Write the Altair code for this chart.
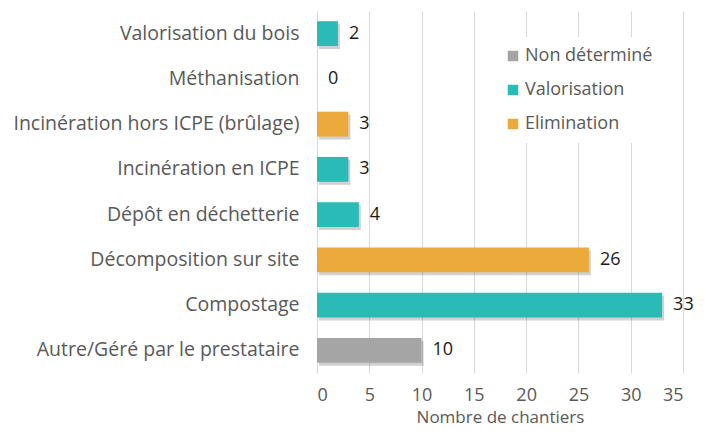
import altair as alt
import pandas as pd

categories = [
    "Valorisation du bois",
    "Méthanisation",
    "Incinération hors ICPE (brûlage)",
    "Incinération en ICPE",
    "Dépôt en déchetterie",
    "Décomposition sur site",
    "Compostage",
    "Autre/Géré par le prestataire",
]
values = [2, 0, 3, 3, 4, 26, 33, 10]
types = ["Valorisation", "Valorisation", "Elimination", "Valorisation",
         "Valorisation", "Elimination", "Valorisation", "Non déterminé"]

legend_order = ["Non déterminé", "Valorisation", "Elimination"]
legend_colors = ["#A5A5A5", "#2BBBB7", "#EDAA3C"]
x_ticks = [0, 5, 10, 15, 20, 25, 30, 35]

df = pd.DataFrame({"cat": categories, "val": values, "type": types})

FONT = "Open Sans"

y_enc = alt.Y("cat:N", sort=categories, title=None,
              scale=alt.Scale(paddingInner=0.45, paddingOuter=0.225))
x_scale = alt.Scale(domain=[0, 35], nice=False)

shadow = alt.Chart(df).mark_bar(color="#000000", opacity=0.18, xOffset=2, yOffset=3).encode(
    x=alt.X("val:Q", scale=x_scale),
    y=y_enc,
)

bars = alt.Chart(df).mark_bar().encode(
    x=alt.X("val:Q", scale=x_scale, title="Nombre de chantiers",
            axis=alt.Axis(values=x_ticks, grid=True, gridColor="#D9D9D9", domain=False,
                          ticks=False, labelPadding=13, labelFontSize=18,
                          labelColor="#595959", labelFont=FONT,
                          titleFont=FONT, titleFontSize=17, titleFontWeight="normal",
                          titleColor="#595959", titlePadding=5)),
    y=alt.Y("cat:N", sort=categories, title=None,
            scale=alt.Scale(paddingInner=0.45, paddingOuter=0.225),
            axis=alt.Axis(domain=True, domainColor="#D9D9D9", ticks=False, labelPadding=18,
                          labelFontSize=19.5, labelColor="#595959", labelFont=FONT,
                          labelLimit=400)),
    color=alt.Color("type:N",
                    scale=alt.Scale(domain=legend_order, range=legend_colors),
                    legend=alt.Legend(title=None, orient="none", legendX=177, legendY=26,
                                      fillColor="white", padding=10,
                                      symbolType="square", symbolSize=110,
                                      symbolStrokeWidth=0,
                                      labelFontSize=18, labelColor="#595959",
                                      labelFont=FONT, rowPadding=16, labelOffset=3)),
)

labels = alt.Chart(df).mark_text(align="left", baseline="middle", dx=11,
                                 fontSize=18, font=FONT, color="#1a1a1a").encode(
    x=alt.X("val:Q", scale=x_scale),
    y=y_enc,
    text=alt.Text("val:Q"),
)

chart = alt.layer(shadow, bars, labels).properties(
    width=366, height=362,
    padding={"left": 309, "top": 3, "right": 16, "bottom": 55},
    autosize=alt.AutoSizeParams(type="none"),
).configure_view(stroke=None).configure_axis(gridColor="#D9D9D9")

chart.save("out.html", embed_options={"renderer": "svg", "actions": False})
